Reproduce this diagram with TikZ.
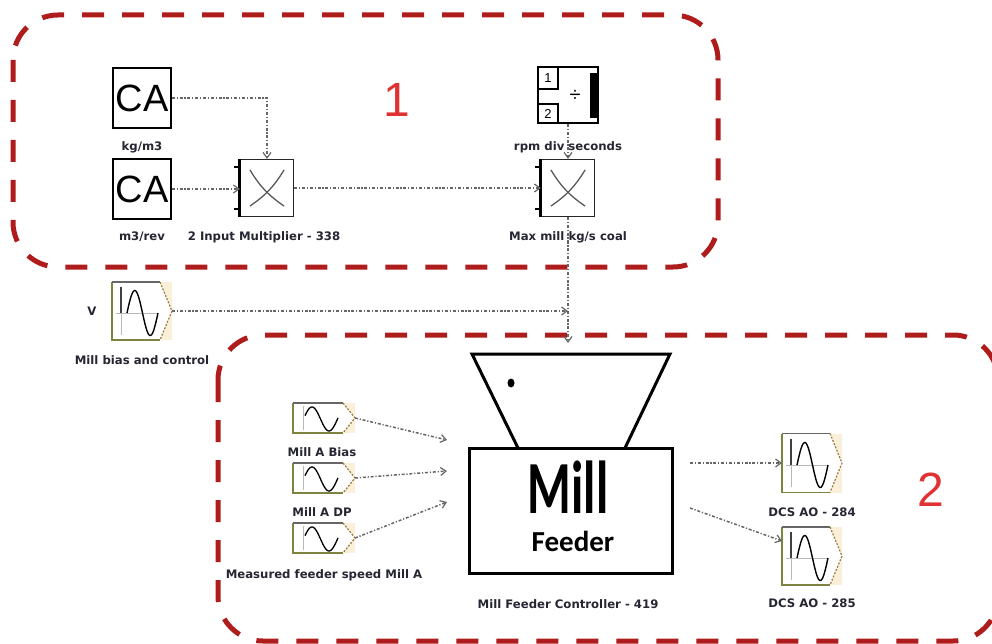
\documentclass[tikz,border=0pt]{standalone}
\usepackage{fontspec}
\usepackage{graphicx}
\usetikzlibrary{arrows.meta}
\newfontfamily\lblfont{DejaVu Sans}
\newfontfamily\arialfont{Liberation Sans}
\newfontfamily\calfont{Carlito}
\definecolor{zonered}{HTML}{AE1C1C}
\definecolor{numred}{HTML}{E03232}
\definecolor{wire}{HTML}{666666}
\definecolor{cream}{HTML}{FAEFD8}
\definecolor{olivegreen}{HTML}{7E8440}
\definecolor{slant}{HTML}{9A7A3E}
\definecolor{lbl}{HTML}{262633}

\tikzset{
  zone/.style={draw=zonered, line width=5pt, dash pattern=on 22pt off 18pt, rounded corners=45pt},
  zonenum/.style={text=numred, inner sep=0pt, font=\arialfont\fontsize{48}{48}\selectfont},
  wirestyle/.style={draw=wire, line width=1.5pt,
    dash pattern=on 3pt off 1.8pt on 1.2pt off 1.8pt,
    -{Straight Barb[length=5.5pt,width=8pt,line width=1.2pt]}},
  lbltxt/.style={text=lbl, inner sep=0pt, font=\lblfont\bfseries\fontsize{11.7}{12}\selectfont},
  cabox/.style={draw=black, line width=1.5pt, minimum width=58pt, minimum height=60pt,
    inner sep=0pt, font=\arialfont\fontsize{38}{38}\selectfont},
  mulbox/.style={draw=black!85, line width=1.2pt, minimum width=53pt, minimum height=57pt, inner sep=0pt},
  sigbox/.style={inner sep=0pt, outer sep=0pt},
  cross/.style={draw=black!65, line width=1.3pt},
}

% signal generator block: name, x, y, width, height
\newcommand\sigblk[5]{%
  \node[sigbox, minimum width=#4pt, minimum height=#5pt] (#1) at (#2,#3) {};
  \fill[cream] (#1.north west) rectangle (#1.south east);
  \fill[white] (#1.north west) -- ([xshift=-12pt]#1.north east) -- (#1.east)
     -- ([xshift=-12pt]#1.south east) -- (#1.south west) -- cycle;
  \draw[olivegreen, line width=1.5pt] ([xshift=-12pt]#1.south east) -- (#1.south west) -- (#1.north west);
  \draw[gray!80!black, line width=1.2pt] (#1.north west) -- ([xshift=-12pt]#1.north east);
  \draw[slant, line width=1.2pt, dash pattern=on 2pt off 1.5pt]
     ([xshift=-12pt]#1.north east) -- (#1.east) -- ([xshift=-12pt]#1.south east);
}
% full-size sine symbol
\newcommand\bigwave[1]{%
  \begin{scope}[shift={(#1.center)}]
    \draw[gray!55, line width=1pt] (-21,-24) -- (-21,24);
    \draw[gray!55, line width=1pt] (-26,2) -- (16,2);
    \draw[black!75, line width=1.1pt] (-21,-24) -- (-21,2);
    \draw[black, line width=1.4pt] plot[domain=0:360, samples=50] ({-15+\x/360*31}, {2-22.5*sin(\x)});
  \end{scope}}
% small sine symbol
\newcommand\smallwave[1]{%
  \begin{scope}[shift={(#1.center)}]
    \draw[gray!55, line width=1pt] (-21,-12) -- (-21,12);
    \draw[black, line width=1.3pt] plot[domain=16:365, samples=50] ({-12+(\x-90)/360*34}, {1-12*sin(\x)});
  \end{scope}}
% multiplier block: name, x, y
\newcommand\mulblk[3]{%
  \node[mulbox] (#1) at (#2,#3) {};
  \draw[line width=3pt] (#1.north west) -- (#1.south west);
  \draw[line width=1.5pt] ([yshift=-8pt]#1.north west) -- ++(-6,0);
  \draw[line width=1.5pt] ([yshift=8pt]#1.south west) -- ++(-6,0);
  \draw[cross] ([shift={(10pt,-11pt)}]#1.north west) to[bend right=12] ([shift={(-10pt,11pt)}]#1.south east);
  \draw[cross] ([shift={(10pt,11pt)}]#1.south west) to[bend right=12] ([shift={(-10pt,-11pt)}]#1.north east);
}

\begin{document}
\begin{tikzpicture}[x=1pt, y=-1pt]
  \useasboundingbox (0,0) rectangle (992,644);
  \clip (0,0) rectangle (992,644);

  % zones
  \draw[zone] (13,15) rectangle (718,267);
  \draw[zone] (218,335) rectangle (998,641);
  \node[zonenum] (z1) at (397,100) {1};
  \node[zonenum] (z2) at (931,490) {2};

  % constants
  \node[cabox] (ca1) at (142,98) {CA};
  \node[cabox] (ca2) at (142,189) {CA};

  % multipliers
  \mulblk{mul1}{267}{188}
  \mulblk{mul2}{568}{188}

  % divider
  \node[draw, line width=2pt, minimum width=60pt, minimum height=56pt, inner sep=0pt] (div) at (568,95) {};
  \draw[line width=1.5pt] (538,89) -| (558,67);
  \draw[line width=1.5pt] (538,104) -| (558,123);
  \node[inner sep=0pt, font=\arialfont\fontsize{13}{13}\selectfont] (d1) at (548,78) {1};
  \node[inner sep=0pt, font=\arialfont\fontsize{13}{13}\selectfont] (d2) at (548,114) {2};
  \node[inner sep=0pt, font=\arialfont\fontsize{20}{20}\selectfont] (dv) at (575,96) {÷};
  \fill (590,73) rectangle (597,118);

  % signal blocks
  \sigblk{vsig}{142}{311}{60}{58}   \bigwave{vsig}
  \sigblk{bias}{324}{418}{62}{30}   \smallwave{bias}
  \sigblk{dp}{324}{478}{62}{30}     \smallwave{dp}
  \sigblk{meas}{324}{538}{62}{30}   \smallwave{meas}
  \sigblk{dcs1}{812}{463}{60}{59}   \bigwave{dcs1}
  \sigblk{dcs2}{812}{556}{60}{58}   \bigwave{dcs2}

  % mill feeder
  \draw[line width=3pt, line join=miter] (518,448) -- (472,354) -- (670,354) -- (625,448);
  \fill (511,383) ellipse [x radius=3.5pt, y radius=4.5pt];
  \coordinate (hopper) at (568,354);
  \node[draw, line width=3pt, minimum width=203pt, minimum height=125pt, inner sep=0pt] (feeder) at (570.5,510.5) {};
  \node[inner sep=0pt, font=\calfont\bfseries] (milltxt) at (568,487)
     {\scalebox{1}[1.5]{\fontsize{50}{50}\selectfont Mill}};
  \node[inner sep=0pt, font=\calfont\bfseries\fontsize{29}{29}\selectfont] (feedtxt) at (573,541) {Feeder};

  % free ends of connectors
  \coordinate (jn) at (vsig.east -| mul2.south);
  \coordinate (in1) at (447,440);
  \coordinate (in2) at (447,471);
  \coordinate (in3) at (447,502);
  \coordinate (o1) at (690,463);
  \coordinate (o2) at (690,508);

  % connectors
  \draw[wirestyle] (ca1.east) -| (mul1.north);
  \draw[wirestyle] (ca2.east) -- (ca2.east -| mul1.west);
  \draw[wirestyle] (mul1.east) -- (mul2.west);
  \draw[wirestyle] (div.south) -- (mul2.north);
  \draw[wirestyle, shorten >=11pt] (mul2.south) -- (hopper);
  \draw[wirestyle] (vsig.east) -- (jn);
  \draw[wirestyle] (bias.east) -- (in1);
  \draw[wirestyle] (dp.east) -- (in2);
  \draw[wirestyle] (meas.east) -- (in3);
  \draw[wirestyle] (o1) -- (dcs1.west);
  \draw[wirestyle] (o2) -- ([yshift=15pt]dcs2.west);

  % labels
  \node[lbltxt] (lca1) at (142,147) {kg/m3};
  \node[lbltxt] (lca2) at (142,237) {m3/rev};
  \node[lbltxt] (lmul1) at (264,237) {2 Input Multiplier - 338};
  \node[lbltxt] (ldiv) at (568,147) {rpm div seconds};
  \node[lbltxt] (lmul2) at (568,237) {Max mill kg/s coal};
  \node[lbltxt] (lv) at (92,311) {V};
  \node[lbltxt] (lvsig) at (142,360) {Mill bias and control};
  \node[lbltxt] (lbias) at (322,452) {Mill A Bias};
  \node[lbltxt] (ldp) at (322,512) {Mill A DP};
  \node[lbltxt] (lmeas) at (324,575) {Measured feeder speed Mill A};
  \node[lbltxt] (lfeed) at (568,604) {Mill Feeder Controller - 419};
  \node[lbltxt] (ldcs1) at (812,512) {DCS AO - 284};
  \node[lbltxt] (ldcs2) at (812,603) {DCS AO - 285};
\end{tikzpicture}
\end{document}
